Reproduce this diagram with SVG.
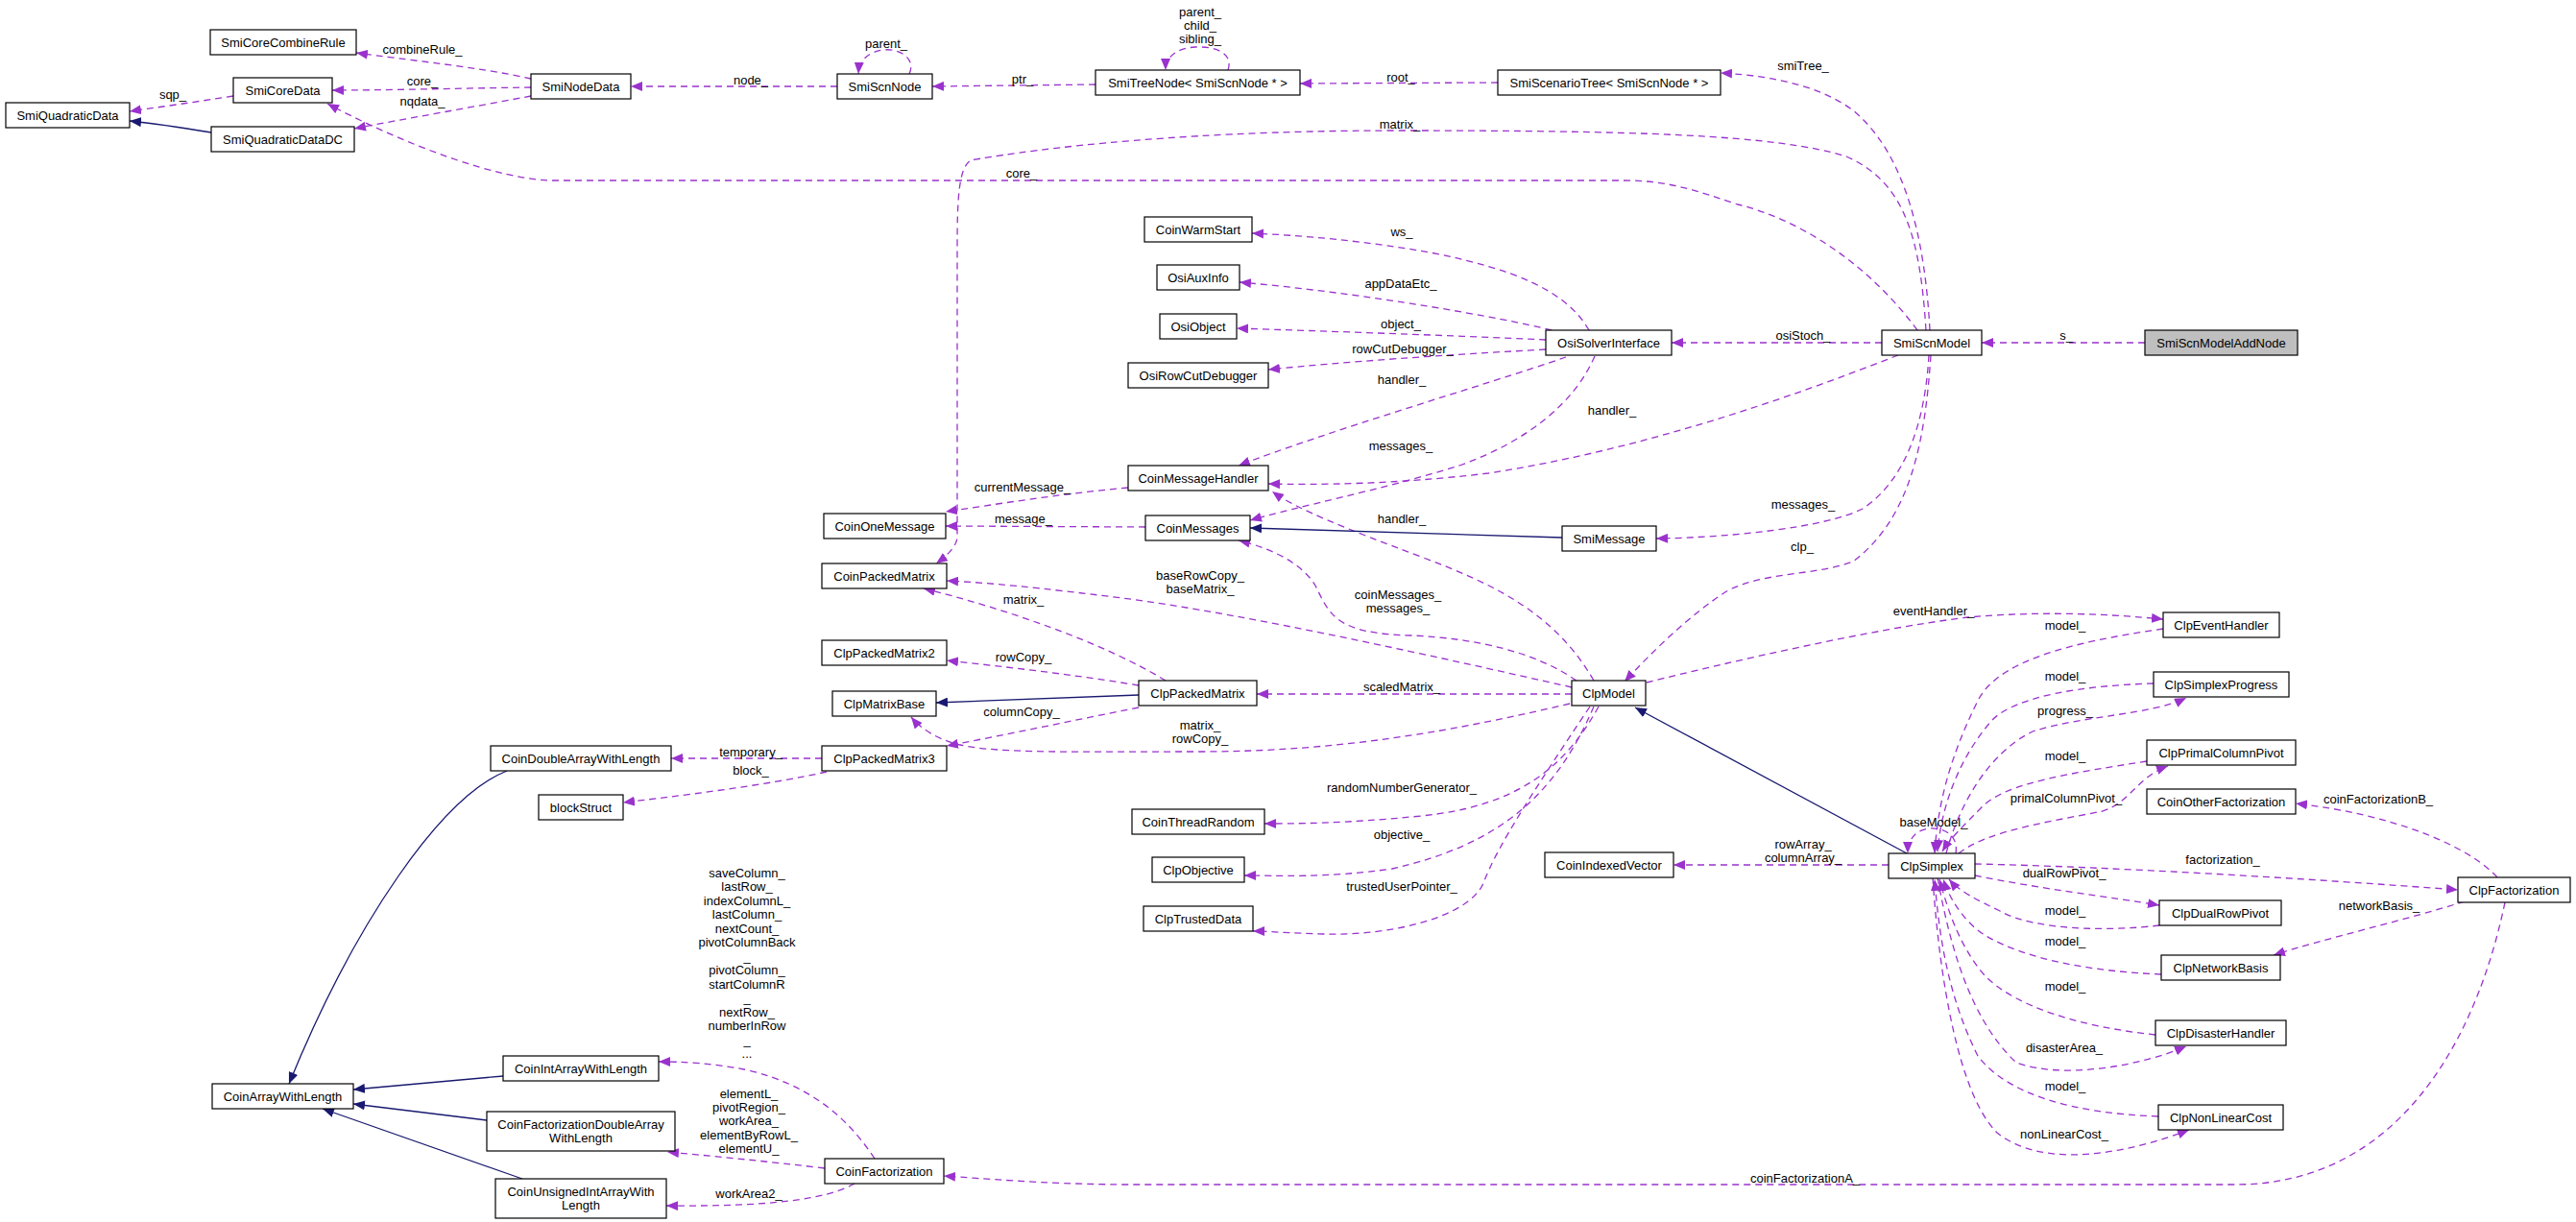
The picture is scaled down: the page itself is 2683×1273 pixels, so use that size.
<svg xmlns="http://www.w3.org/2000/svg" width="2683" height="1273" viewBox="0 0 2683 1273">
<style>
text{font-family:"Liberation Sans",Arial,Helvetica,sans-serif;font-size:13px;fill:#000}
.n rect{fill:#fff;stroke:#000;stroke-width:1.2}
.n text{text-anchor:middle}
.cur rect{fill:#bfbfbf}
.e{fill:none;stroke:#9a32cd;stroke-width:1.3;stroke-dasharray:7,5}
.i{fill:none;stroke:#191970;stroke-width:1.3}
.l text{text-anchor:middle}
</style>
<defs>
<marker id="ap" viewBox="0 0 12 10" refX="12" refY="5" markerWidth="12" markerHeight="10" markerUnits="userSpaceOnUse" orient="auto"><path d="M0,0 L12,5 L0,10 z" fill="#9a32cd"/></marker>
<marker id="an" viewBox="0 0 12 10" refX="12" refY="5" markerWidth="12" markerHeight="10" markerUnits="userSpaceOnUse" orient="auto"><path d="M0,0 L12,5 L0,10 z" fill="#191970"/></marker>
</defs>
<rect width="2683" height="1273" fill="#fff"/>
<g id="edges">
<g marker-end="url(#ap)">
<path class="e" d="M553,82 C500,70 420,62 371,55"/>
<path class="e" d="M553,91 C480,92 400,94 346,94"/>
<path class="e" d="M553,100 C490,112 420,124 369,134"/>
<path class="e" d="M243,100 C205,106 170,111 135,116"/>
<path class="e" d="M872,90 L657,90"/>
<path class="e" d="M947,77 C955,60 935,50 920,52 C905,54 895,62 894,77"/>
<path class="e" d="M1141,88 L971,90"/>
<path class="e" d="M1279,73 C1285,55 1265,48 1245,49 C1225,50 1214,60 1214,73"/>
<path class="e" d="M1560,86 L1354,87"/>
<path class="e" d="M2010,344 C2005,250 1985,160 1930,115 C1890,85 1830,78 1792,76"/>
<path class="e" d="M2006,344 C2000,250 1985,190 1923,163 C1850,140 1700,136 1456,136 C1200,136 1050,160 1011,167 C998,175 997,210 997,260 L997,560 C996,570 985,580 975,587"/>
<path class="e" d="M1997,344 C1950,280 1880,230 1810,213 C1770,200 1740,188 1692,188 L577,188 C520,188 420,150 341,108"/>
<path class="e" d="M2234,357 L2064,357"/>
<path class="e" d="M1960,357 L1741,357"/>
<path class="e" d="M1655,344 C1630,300 1570,280 1500,265 C1420,250 1350,245 1304,243"/>
<path class="e" d="M1616,344 C1570,332 1420,305 1291,294"/>
<path class="e" d="M1610,354 C1500,349 1380,345 1288,342"/>
<path class="e" d="M1610,364 C1500,370 1400,377 1321,385"/>
<path class="e" d="M1631,372 C1550,400 1380,450 1290,485"/>
<path class="e" d="M1661,371 C1640,420 1590,460 1520,485 C1440,510 1350,528 1302,542"/>
<path class="e" d="M1977,370 C1850,420 1700,470 1550,493 C1450,505 1370,505 1321,504"/>
<path class="e" d="M1175,508 C1100,515 1040,525 985,533"/>
<path class="e" d="M1193,549 L985,548"/>
<path class="e" d="M2009,370 C2005,440 1985,500 1940,530 C1900,550 1800,560 1725,561"/>
<path class="e" d="M2011,370 C2005,460 1990,540 1930,585 C1890,600 1840,595 1800,615 C1760,640 1720,680 1692,710"/>
<path class="e" d="M1660,709 C1620,640 1560,610 1480,580 C1400,550 1350,530 1325,512"/>
<path class="e" d="M1642,709 C1600,680 1540,665 1470,662 C1390,660 1385,640 1370,610 C1355,585 1320,570 1290,563"/>
<path class="e" d="M1637,716 C1500,685 1300,640 1169,623 C1080,612 1030,607 986,605"/>
<path class="e" d="M1214,709 C1150,670 1050,635 962,613"/>
<path class="e" d="M1186,714 C1120,703 1050,695 986,688"/>
<path class="e" d="M1186,737 C1120,750 1050,765 986,777"/>
<path class="e" d="M1635,733 C1520,760 1400,783 1250,783 C1120,783 1040,785 1000,776 C975,770 958,758 949,747"/>
<path class="e" d="M1637,723 L1309,723"/>
<path class="e" d="M1715,711 C1800,690 1950,655 2050,643 C2130,636 2200,640 2253,645"/>
<path class="e" d="M1665,736 C1630,800 1580,840 1480,850 C1400,858 1350,858 1317,858"/>
<path class="e" d="M1660,736 C1620,830 1560,880 1450,905 C1380,915 1330,912 1296,912"/>
<path class="e" d="M1656,736 C1600,820 1560,880 1545,920 C1530,955 1450,975 1380,973 C1340,972 1320,970 1305,970"/>
<path class="e" d="M1967,901 L1743,901"/>
<path class="e" d="M2253,655 C2150,670 2080,690 2060,730 C2030,790 2018,840 2015,889"/>
<path class="e" d="M2243,712 C2170,714 2100,725 2075,750 C2040,790 2022,840 2018,887"/>
<path class="e" d="M2027,889 C2040,840 2070,785 2117,762 C2170,745 2240,745 2277,727"/>
<path class="e" d="M2236,793 C2160,805 2090,815 2065,840 C2045,860 2030,875 2023,887"/>
<path class="e" d="M2040,889 C2070,865 2140,855 2190,845 C2220,835 2225,810 2258,798"/>
<path class="e" d="M2037,889 C2040,870 2025,862 2010,863 C1995,864 1987,875 1987,889"/>
<path class="e" d="M2057,900 C2200,903 2400,915 2560,927"/>
<path class="e" d="M2057,912 C2120,925 2200,935 2249,943"/>
<path class="e" d="M2249,964 C2200,970 2120,970 2083,949 C2060,938 2040,928 2030,916"/>
<path class="e" d="M2251,1015 C2180,1012 2110,1000 2067,974 C2045,960 2030,935 2024,916"/>
<path class="e" d="M2245,1078 C2170,1070 2100,1050 2067,1016 C2040,985 2028,945 2020,916"/>
<path class="e" d="M2018,914 C2030,980 2050,1060 2100,1107 C2150,1125 2230,1110 2277,1090"/>
<path class="e" d="M2248,1163 C2160,1160 2090,1140 2060,1100 C2030,1040 2020,980 2015,916"/>
<path class="e" d="M2013,914 C2020,1020 2040,1140 2080,1180 C2130,1220 2220,1200 2280,1177"/>
<path class="e" d="M2601,914 C2570,880 2490,848 2391,837"/>
<path class="e" d="M2567,939 C2500,960 2420,978 2368,995"/>
<path class="e" d="M2609,940 C2580,1080 2500,1234 2328,1234 L1169,1234 C1080,1233 1030,1228 983,1225"/>
<path class="e" d="M856,790 L699,790"/>
<path class="e" d="M861,804 C800,818 700,830 649,836"/>
<path class="e" d="M911,1207 C880,1160 840,1130 780,1115 C740,1107 710,1106 686,1106"/>
<path class="e" d="M859,1217 C800,1210 750,1205 695,1200"/>
<path class="e" d="M890,1233 C860,1250 800,1257 694,1256"/>
</g>
<g marker-end="url(#an)">
<path class="i" d="M220,138 C190,133 165,129 135,126"/>
<path class="i" d="M1627,560 L1302,550"/>
<path class="i" d="M1186,724 L975,732"/>
<path class="i" d="M1986,889 L1703,737"/>
<path class="i" d="M528,803 C460,830 370,960 301,1129"/>
<path class="i" d="M524,1121 L368,1135"/>
<path class="i" d="M507,1167 L368,1150"/>
<path class="i" d="M544,1228 L336,1155"/>
</g>
<g class="l">
<text x="440" y="55.5">combineRule_</text>
<text x="440" y="88.5">core_</text>
<text x="440" y="109.5">nqdata_</text>
<text x="180" y="102.5">sqp_</text>
<text x="782" y="87.5">node_</text>
<text x="923" y="49.5">parent_</text>
<text x="1065" y="86.5">ptr_</text>
<text x="1250" y="16.5">parent_</text>
<text x="1250" y="30.5">child_</text>
<text x="1250" y="44.5">sibling_</text>
<text x="1459" y="84.5">root_</text>
<text x="1878" y="72.5">smiTree_</text>
<text x="1458" y="133.5">matrix_</text>
<text x="1064" y="184.5">core_</text>
<text x="2152" y="353.5">s_</text>
<text x="1878" y="353.5">osiStoch_</text>
<text x="1460" y="245.5">ws_</text>
<text x="1459" y="299.5">appDataEtc_</text>
<text x="1459" y="341.5">object_</text>
<text x="1461" y="367.5">rowCutDebugger_</text>
<text x="1460" y="399.5">handler_</text>
<text x="1679" y="431.5">handler_</text>
<text x="1459" y="468.5">messages_</text>
<text x="1065" y="511.5">currentMessage_</text>
<text x="1066" y="544.5">message_</text>
<text x="1460" y="544.5">handler_</text>
<text x="1878" y="529.5">messages_</text>
<text x="1877" y="573.5">clp_</text>
<text x="1250" y="603.5">baseRowCopy_</text>
<text x="1250" y="617.5">baseMatrix_</text>
<text x="1456" y="623.5">coinMessages_</text>
<text x="1456" y="637.5">messages_</text>
<text x="1066" y="628.5">matrix_</text>
<text x="1066" y="688.5">rowCopy_</text>
<text x="1460" y="719.5">scaledMatrix_</text>
<text x="1064" y="745.5">columnCopy_</text>
<text x="1250" y="759.5">matrix_</text>
<text x="1250" y="773.5">rowCopy_</text>
<text x="1460" y="824.5">randomNumberGenerator_</text>
<text x="1460" y="873.5">objective_</text>
<text x="1460" y="927.5">trustedUserPointer_</text>
<text x="1878" y="883.5">rowArray_</text>
<text x="1878" y="897.5">columnArray_</text>
<text x="2014" y="640.5">eventHandler_</text>
<text x="2151" y="655.5">model_</text>
<text x="2151" y="708.5">model_</text>
<text x="2151" y="744.5">progress_</text>
<text x="2151" y="791.5">model_</text>
<text x="2152" y="835.5">primalColumnPivot_</text>
<text x="2477" y="836.5">coinFactorizationB_</text>
<text x="2014" y="860.5">baseModel_</text>
<text x="2315" y="899.5">factorization_</text>
<text x="2150" y="913.5">dualRowPivot_</text>
<text x="2478" y="947.5">networkBasis_</text>
<text x="2151" y="952.5">model_</text>
<text x="2151" y="984.5">model_</text>
<text x="2151" y="1031.5">model_</text>
<text x="2150" y="1095.5">disasterArea_</text>
<text x="2151" y="1135.5">model_</text>
<text x="2150" y="1185.5">nonLinearCost_</text>
<text x="1880" y="1231.5">coinFactorizationA_</text>
<text x="782" y="787.5">temporary_</text>
<text x="782" y="806.5">block_</text>
<text x="778" y="913.5">saveColumn_</text>
<text x="778" y="928">lastRow_</text>
<text x="778" y="942.5">indexColumnL_</text>
<text x="778" y="957">lastColumn_</text>
<text x="778" y="971.5">nextCount_</text>
<text x="778" y="986">pivotColumnBack</text>
<text x="778" y="1000.5">_</text>
<text x="778" y="1015">pivotColumn_</text>
<text x="778" y="1029.5">startColumnR</text>
<text x="778" y="1044">_</text>
<text x="778" y="1058.5">nextRow_</text>
<text x="778" y="1073">numberInRow</text>
<text x="778" y="1087.5">_</text>
<text x="778" y="1102">...</text>
<text x="780" y="1143.5">elementL_</text>
<text x="780" y="1157.5">pivotRegion_</text>
<text x="780" y="1172">workArea_</text>
<text x="780" y="1186.5">elementByRowL_</text>
<text x="780" y="1201">elementU_</text>
<text x="780" y="1247.5">workArea2_</text>
</g>
</g>
<g id="SmiCoreCombineRule" class="n"><rect x="219" y="31" width="152" height="26"/><text x="295" y="48.5">SmiCoreCombineRule</text></g>
<g id="SmiCoreData" class="n"><rect x="243" y="81" width="103" height="26"/><text x="294.5" y="98.5">SmiCoreData</text></g>
<g id="SmiQuadraticData" class="n"><rect x="6" y="107" width="129" height="26"/><text x="70.5" y="124.5">SmiQuadraticData</text></g>
<g id="SmiQuadraticDataDC" class="n"><rect x="220" y="132" width="149" height="26"/><text x="294.5" y="149.5">SmiQuadraticDataDC</text></g>
<g id="SmiNodeData" class="n"><rect x="553" y="77" width="104" height="26"/><text x="605" y="94.5">SmiNodeData</text></g>
<g id="SmiScnNode" class="n"><rect x="872" y="77" width="99" height="26"/><text x="921.5" y="94.5">SmiScnNode</text></g>
<g id="SmiTreeNode" class="n"><rect x="1141" y="73" width="213" height="26"/><text x="1247.5" y="90.5">SmiTreeNode&lt; SmiScnNode * &gt;</text></g>
<g id="SmiScenarioTree" class="n"><rect x="1560" y="73" width="232" height="26"/><text x="1676" y="90.5">SmiScenarioTree&lt; SmiScnNode * &gt;</text></g>
<g id="SmiScnModel" class="n"><rect x="1960" y="344" width="104" height="26"/><text x="2012" y="361.5">SmiScnModel</text></g>
<g id="SmiScnModelAddNode" class="n cur"><rect x="2234" y="344" width="159" height="26"/><text x="2313.5" y="361.5">SmiScnModelAddNode</text></g>
<g id="CoinWarmStart" class="n"><rect x="1192" y="226" width="112" height="26"/><text x="1248" y="243.5">CoinWarmStart</text></g>
<g id="OsiAuxInfo" class="n"><rect x="1205" y="276" width="86" height="26"/><text x="1248" y="293.5">OsiAuxInfo</text></g>
<g id="OsiObject" class="n"><rect x="1208" y="327" width="80" height="26"/><text x="1248" y="344.5">OsiObject</text></g>
<g id="OsiRowCutDebugger" class="n"><rect x="1175" y="378" width="146" height="26"/><text x="1248" y="395.5">OsiRowCutDebugger</text></g>
<g id="OsiSolverInterface" class="n"><rect x="1610" y="344" width="131" height="26"/><text x="1675.5" y="361.5">OsiSolverInterface</text></g>
<g id="CoinMessageHandler" class="n"><rect x="1175" y="485" width="146" height="26"/><text x="1248" y="502.5">CoinMessageHandler</text></g>
<g id="CoinOneMessage" class="n"><rect x="858" y="535" width="127" height="26"/><text x="921.5" y="552.5">CoinOneMessage</text></g>
<g id="CoinMessages" class="n"><rect x="1193" y="537" width="109" height="26"/><text x="1247.5" y="554.5">CoinMessages</text></g>
<g id="SmiMessage" class="n"><rect x="1627" y="548" width="98" height="26"/><text x="1676" y="565.5">SmiMessage</text></g>
<g id="CoinPackedMatrix" class="n"><rect x="856" y="587" width="130" height="26"/><text x="921" y="604.5">CoinPackedMatrix</text></g>
<g id="ClpPackedMatrix2" class="n"><rect x="856" y="667" width="130" height="26"/><text x="921" y="684.5">ClpPackedMatrix2</text></g>
<g id="ClpMatrixBase" class="n"><rect x="867" y="720" width="108" height="26"/><text x="921" y="737.5">ClpMatrixBase</text></g>
<g id="ClpPackedMatrix3" class="n"><rect x="856" y="777" width="130" height="26"/><text x="921" y="794.5">ClpPackedMatrix3</text></g>
<g id="ClpPackedMatrix" class="n"><rect x="1186" y="709" width="123" height="26"/><text x="1247.5" y="726.5">ClpPackedMatrix</text></g>
<g id="ClpModel" class="n"><rect x="1637" y="709" width="77" height="26"/><text x="1675.5" y="726.5">ClpModel</text></g>
<g id="CoinThreadRandom" class="n"><rect x="1179" y="843" width="138" height="26"/><text x="1248" y="860.5">CoinThreadRandom</text></g>
<g id="ClpObjective" class="n"><rect x="1200" y="893" width="96" height="26"/><text x="1248" y="910.5">ClpObjective</text></g>
<g id="ClpTrustedData" class="n"><rect x="1191" y="944" width="114" height="26"/><text x="1248" y="961.5">ClpTrustedData</text></g>
<g id="CoinIndexedVector" class="n"><rect x="1609" y="888" width="134" height="26"/><text x="1676" y="905.5">CoinIndexedVector</text></g>
<g id="ClpSimplex" class="n"><rect x="1967" y="889" width="90" height="26"/><text x="2012" y="906.5">ClpSimplex</text></g>
<g id="ClpEventHandler" class="n"><rect x="2253" y="638" width="121" height="26"/><text x="2313.5" y="655.5">ClpEventHandler</text></g>
<g id="ClpSimplexProgress" class="n"><rect x="2243" y="700" width="141" height="26"/><text x="2313.5" y="717.5">ClpSimplexProgress</text></g>
<g id="ClpPrimalColumnPivot" class="n"><rect x="2236" y="771" width="155" height="26"/><text x="2313.5" y="788.5">ClpPrimalColumnPivot</text></g>
<g id="CoinOtherFactorization" class="n"><rect x="2236" y="822" width="155" height="26"/><text x="2313.5" y="839.5">CoinOtherFactorization</text></g>
<g id="ClpFactorization" class="n"><rect x="2560" y="914" width="117" height="26"/><text x="2618.5" y="931.5">ClpFactorization</text></g>
<g id="ClpDualRowPivot" class="n"><rect x="2249" y="938" width="127" height="26"/><text x="2312.5" y="955.5">ClpDualRowPivot</text></g>
<g id="ClpNetworkBasis" class="n"><rect x="2251" y="995" width="124" height="26"/><text x="2313" y="1012.5">ClpNetworkBasis</text></g>
<g id="ClpDisasterHandler" class="n"><rect x="2245" y="1063" width="136" height="26"/><text x="2313" y="1080.5">ClpDisasterHandler</text></g>
<g id="ClpNonLinearCost" class="n"><rect x="2248" y="1151" width="130" height="26"/><text x="2313" y="1168.5">ClpNonLinearCost</text></g>
<g id="CoinDoubleArrayWithLength" class="n"><rect x="511" y="777" width="188" height="26"/><text x="605" y="794.5">CoinDoubleArrayWithLength</text></g>
<g id="blockStruct" class="n"><rect x="561" y="828" width="88" height="26"/><text x="605" y="845.5">blockStruct</text></g>
<g id="CoinArrayWithLength" class="n"><rect x="221" y="1129" width="147" height="26"/><text x="294.5" y="1146.5">CoinArrayWithLength</text></g>
<g id="CoinIntArrayWithLength" class="n"><rect x="524" y="1100" width="162" height="26"/><text x="605" y="1117.5">CoinIntArrayWithLength</text></g>
<g id="CoinFactorizationDoubleArrayWithLength" class="n"><rect x="507" y="1158" width="196" height="41"/><text x="605" y="1175.5">CoinFactorizationDoubleArray</text><text x="605" y="1190">WithLength</text></g>
<g id="CoinUnsignedIntArrayWithLength" class="n"><rect x="516" y="1228" width="178" height="41"/><text x="605" y="1245.5">CoinUnsignedIntArrayWith</text><text x="605" y="1260">Length</text></g>
<g id="CoinFactorization" class="n"><rect x="859" y="1207" width="124" height="26"/><text x="921" y="1224.5">CoinFactorization</text></g>
</svg>
